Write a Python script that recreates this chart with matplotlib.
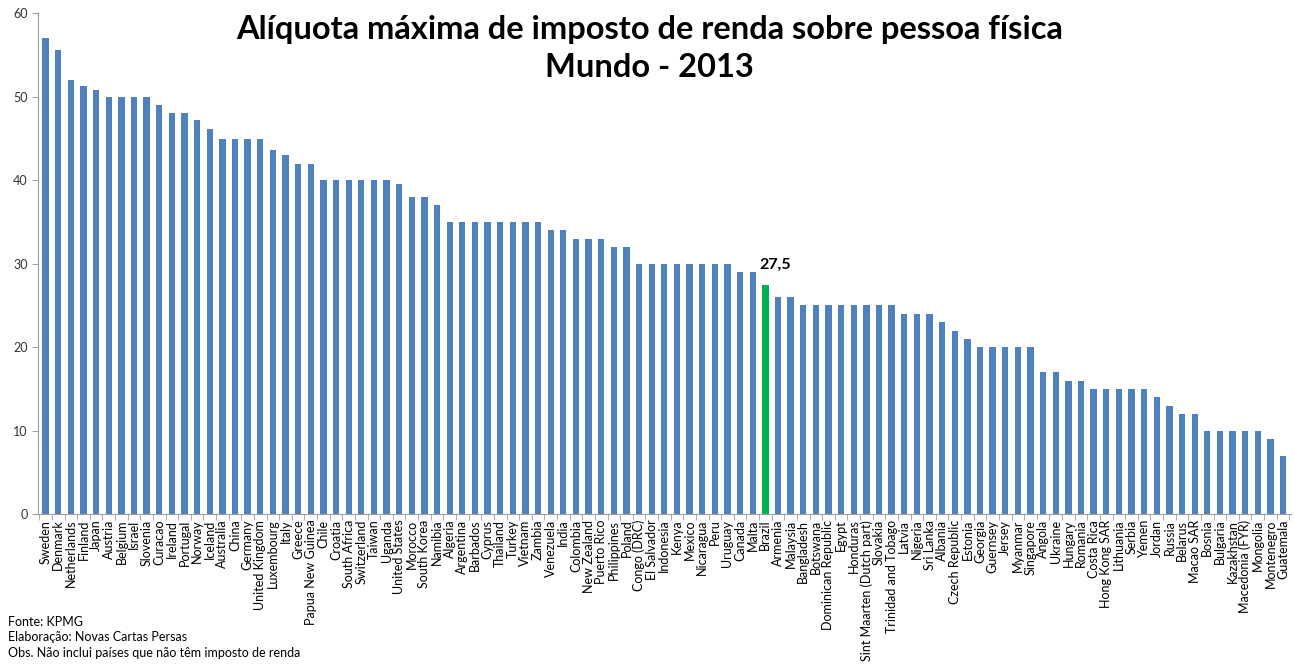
import matplotlib.pyplot as plt
import numpy as np

plt.rcParams['font.family'] = ['Lato', 'DejaVu Sans']

paises = ['Sweden', 'Denmark', 'Netherlands', 'Finland', 'Japan', 'Austria', 'Belgium', 'Israel',
          'Slovenia', 'Curacao', 'Ireland', 'Portugal', 'Norway', 'Iceland', 'Australia', 'China',
          'Germany', 'United Kingdom', 'Luxembourg', 'Italy', 'Greece', 'Papua New Guinea', 'Chile',
          'Croatia', 'South Africa', 'Switzerland', 'Taiwan', 'Uganda', 'United States', 'Morocco',
          'South Korea', 'Namibia', 'Algeria', 'Argentina', 'Barbados', 'Cyprus', 'Thailand', 'Turkey',
          'Vietnam', 'Zambia', 'Venezuela', 'India', 'Colombia', 'New Zealand', 'Puerto Rico',
          'Philippines', 'Poland', 'Congo (DRC)', 'El Salvador', 'Indonesia', 'Kenya', 'Mexico',
          'Nicaragua', 'Peru', 'Uruguay', 'Canada', 'Malta', 'Brazil', 'Armenia', 'Malaysia',
          'Bangladesh', 'Botswana', 'Dominican Republic', 'Egypt', 'Honduras',
          'Sint Maarten (Dutch part)', 'Slovakia', 'Trinidad and Tobago', 'Latvia', 'Nigeria',
          'Sri Lanka', 'Albania', 'Czech Republic', 'Estonia', 'Georgia', 'Guernsey', 'Jersey',
          'Myanmar', 'Singapore', 'Angola', 'Ukraine', 'Hungary', 'Romania', 'Costa Rica',
          'Hong Kong SAR', 'Lithuania', 'Serbia', 'Yemen', 'Jordan', 'Russia', 'Belarus',
          'Macao SAR', 'Bosnia', 'Bulgaria', 'Kazakhstan', 'Macedonia (FYR)', 'Mongolia',
          'Montenegro', 'Guatemala']

aliquotas = [57, 55.6, 52, 51.25, 50.8, 50, 50, 50,
             50, 49, 48, 48, 47.2, 46.2, 45, 45,
             45, 45, 43.6, 43, 42, 42, 40,
             40, 40, 40, 40, 40, 39.6, 38,
             38, 37, 35, 35, 35, 35, 35, 35,
             35, 35, 34, 34, 33, 33, 33,
             32, 32, 30, 30, 30, 30, 30,
             30, 30, 30, 29, 29, 27.5, 26, 26,
             25, 25, 25, 25, 25,
             25, 25, 25, 24, 24,
             24, 23, 22, 21, 20, 20, 20,
             20, 20, 17, 17, 16, 16, 15,
             15, 15, 15, 15, 14, 13, 12,
             12, 10, 10, 10, 10, 10,
             9, 7]

destaque = 'Brazil'

fig = plt.figure(figsize=(12.94, 6.66), dpi=100)
ax = fig.add_axes([0.0294, 0.228, 0.968, 0.752])

x = np.arange(len(paises))
cores = ['#00B050' if p == destaque else '#4F81BD' for p in paises]
ax.bar(x, aliquotas, width=0.5, color=cores)

i = paises.index(destaque)
ax.annotate('27,5', (x[i], aliquotas[i]), xytext=(7, 9), textcoords='offset points',
            ha='center', va='bottom', fontsize=11.5, fontweight='bold')

ax.set_xlim(-0.6, len(paises) - 0.4)
ax.set_ylim(0, 60)
ax.set_yticks(range(0, 61, 10))
ax.set_xticks(x)
ax.set_xticklabels(paises, rotation=90, fontsize=9)
ax.set_xticks(np.arange(-0.5, len(paises), 1), minor=True)
ax.tick_params(axis='x', which='major', length=0, pad=4)
ax.tick_params(axis='x', which='minor', length=4, color='#A0A0A0')
ax.tick_params(axis='y', length=4, color='#A0A0A0', labelsize=9, labelcolor='#333333')

for s in ['top', 'right']:
    ax.spines[s].set_visible(False)
ax.spines['left'].set_color('#A0A0A0')
ax.spines['bottom'].set_color('#A0A0A0')

fig.text(0.502, 0.955, 'Alíquota máxima de imposto de renda sobre pessoa física',
         ha='center', va='center', fontsize=23.5, fontweight='bold')
fig.text(0.502, 0.898, 'Mundo - 2013', ha='center', va='center', fontsize=23.5, fontweight='bold')

fig.text(0.006, 0.066, 'Fonte: KPMG', fontsize=9, va='center')
fig.text(0.006, 0.043, 'Elaboração: Novas Cartas Persas', fontsize=9, va='center')
fig.text(0.006, 0.020, 'Obs. Não inclui países que não têm imposto de renda', fontsize=9, va='center')

fig.savefig('out.png', dpi=100)
